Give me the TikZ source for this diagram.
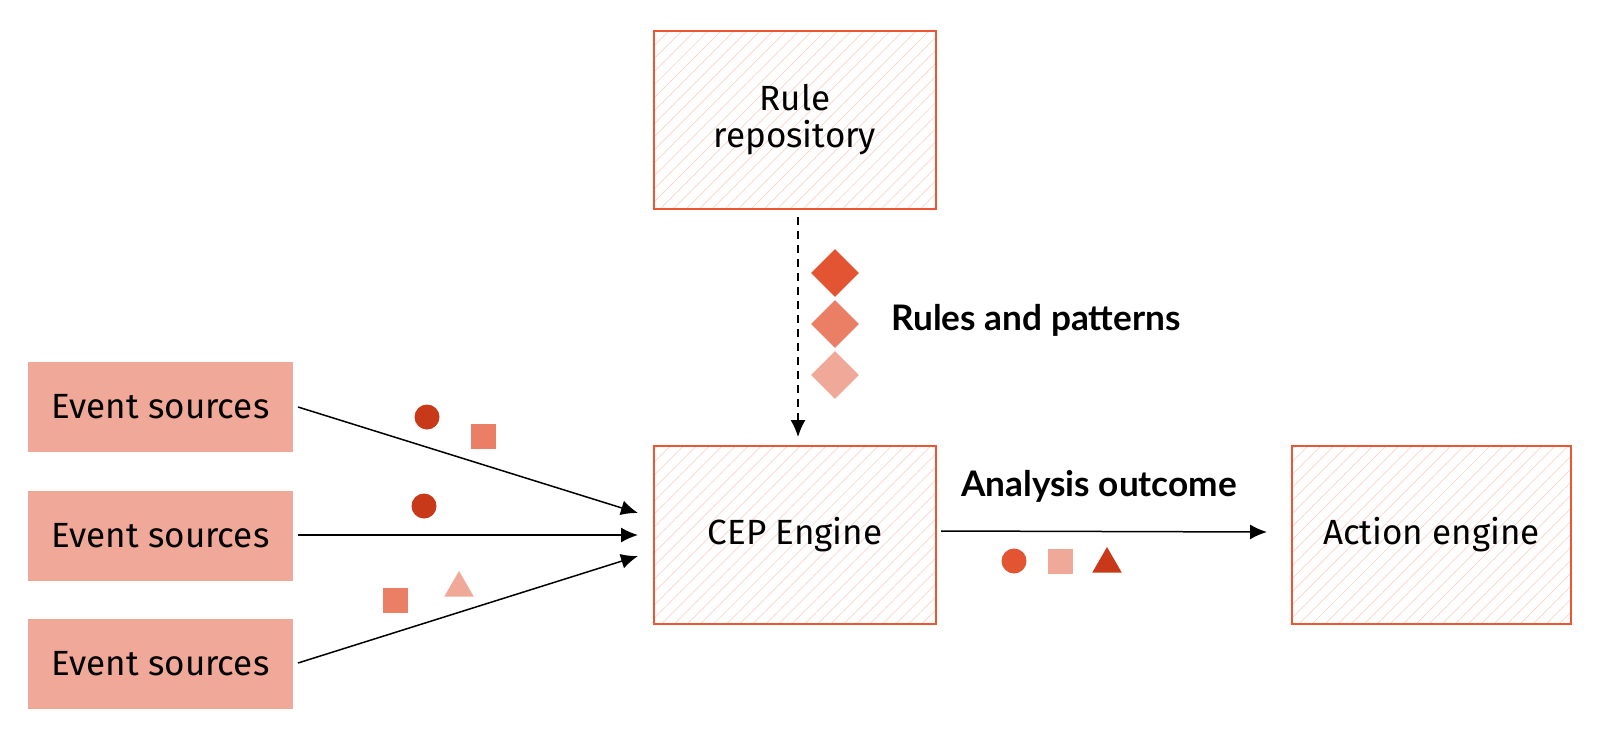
\documentclass[tikz,border=0pt]{standalone}
\usepackage{fontspec}
\setmainfont{Fira Sans}
\newfontfamily\boldlabel{Lato}
\usetikzlibrary{arrows.meta,patterns.meta,shapes.geometric}
\definecolor{boxred}{HTML}{EE5533}
\definecolor{hatch}{HTML}{FAD3CA}
\definecolor{srcfill}{HTML}{F0A898}
\definecolor{cdark}{HTML}{C8391A}
\definecolor{cmid}{HTML}{EB7F66}
\definecolor{cred}{HTML}{E35432}
\definecolor{clight}{HTML}{F0A898}
\tikzset{
  hatchbox/.style={draw=boxred, line width=0.7pt,
    pattern={Lines[angle=45,distance=4.6pt,line width=0.35pt]}, pattern color=hatch,
    minimum width=141pt, minimum height=89pt, align=center,
    font=\fontsize{17.5}{18.5}\selectfont, inner sep=0pt},
  srcbox/.style={fill=srcfill, minimum width=132.5pt, minimum height=45pt,
    inner sep=0pt, font=\fontsize{17.5}{18.5}\selectfont},
  flow/.style={line width=0.75pt, -{Latex[length=8.5pt,width=7.5pt]}},
  lbl/.style={font=\boldlabel\bfseries\fontsize{17.6}{19}\selectfont, inner sep=0pt},
  dot/.style={circle, minimum size=12.5pt, inner sep=0pt},
  sq/.style={rectangle, minimum size=12.5pt, inner sep=0pt},
  tri/.style={regular polygon, regular polygon sides=3, minimum size=17pt, inner sep=0pt},
  dia/.style={diamond, minimum size=24pt, inner sep=0pt},
}
\begin{document}
\begin{tikzpicture}[x=0.5pt,y=-0.5pt]
\useasboundingbox (0,0) rectangle (1600,739);
% main boxes
\node[hatchbox] (rule) at (795,120) {Rule\\repository};
\node[hatchbox] (cep) at (795,535) {CEP Engine};
\node[hatchbox, minimum width=139.5pt] (act) at (1431.5,535) {Action engine};
% event sources
\node[srcbox] (es1) at (160.5,407) {Event sources};
\node[srcbox] (es2) at (160.5,536) {Event sources};
\node[srcbox] (es3) at (160.5,664) {Event sources};
% arrow end points
\coordinate (e1) at (638,513);
\coordinate (e2) at (638,535);
\coordinate (e3) at (638,556);
\coordinate (s1) at (298,407);
\coordinate (s2) at (298,535);
\coordinate (s3) at (298,663);
\draw[flow] (s1) -- (e1);
\draw[flow] (s2) -- (e2);
\draw[flow] (s3) -- (e3);
% dashed rule arrow
\coordinate (d1) at (798,217);
\coordinate (d2) at (798,437);
\draw[flow, dash pattern=on 4pt off 3pt] (d1) -- (d2);
% analysis arrow
\coordinate (a1) at (941,531);
\coordinate (a2) at (1267,532);
\draw[flow] (a1) -- (a2);
% labels
\node[lbl, anchor=west] (rp) at (891,320) {Rules and patterns};
\node[lbl] (ao) at (1099,486) {Analysis outcome};
% diamonds
\node[dia, fill=cred] (dm1) at (835,273) {};
\node[dia, fill=cmid] (dm2) at (835,324) {};
\node[dia, fill=clight] (dm3) at (835,375) {};
% left event tokens
\node[dot, fill=cdark] (c1) at (427,417) {};
\node[sq, fill=cmid] (q1) at (483,436) {};
\node[dot, fill=cdark] (c2) at (424,506) {};
\node[sq, fill=cmid] (q3) at (395,600) {};
\node[tri, fill=clight] (t3) at (459,588) {};
% output tokens
\node[dot, fill=cred] (oc) at (1014,561) {};
\node[sq, fill=clight] (oq) at (1060,561) {};
\node[tri, fill=cdark] (ot) at (1107,564) {};
\end{tikzpicture}
\end{document}
